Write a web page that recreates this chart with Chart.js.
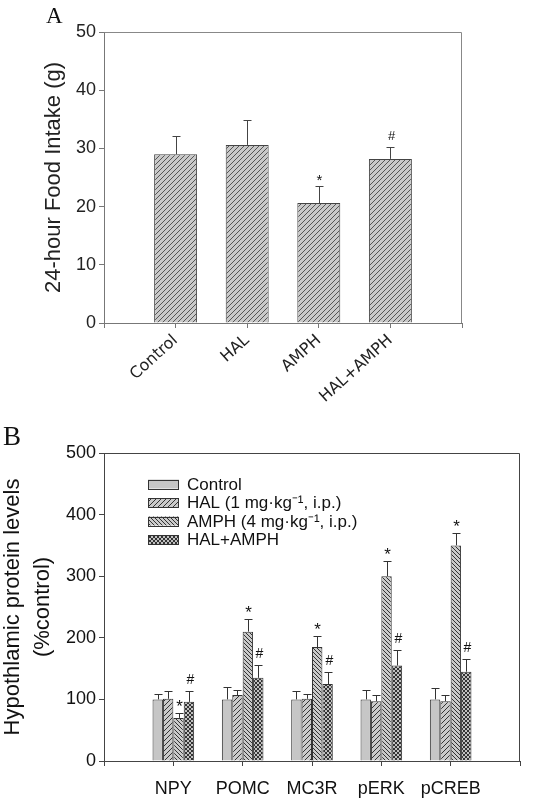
<!DOCTYPE html>
<html>
<head>
<meta charset="utf-8">
<script src="https://cdn.jsdelivr.net/npm/chart.js@4.4.1/dist/chart.umd.min.js"></script>
<style>
  body { margin: 0; background: #fff; width: 554px; height: 800px; position: relative; overflow: hidden; }
  .panel { position: absolute; left: 0; width: 554px; }
  .tag { position: absolute; font-family: "Liberation Serif", serif; color: #111; line-height: 1.15; }
</style>
</head>
<body>
<div class="panel" style="top:0;height:415px"><canvas id="chartA"></canvas></div>
<div class="panel" style="top:415px;height:385px"><canvas id="chartB"></canvas></div>
<div class="tag" style="left:46px;top:3px;font-size:23px">A</div>
<div class="tag" style="left:3px;top:421px;font-size:27px">B</div>
<script>
// ====================
// Panel A data
// ====================
const categoriesA = ["Control", "HAL", "AMPH", "HAL+AMPH"];
const intakeA = [29.0, 30.6, 20.6, 28.2];
const semA = [3.1, 4.2, 3.0, 2.1];
const marksA = ["", "", "*", "#"];
const ticksA = [0, 10, 20, 30, 40, 50];

// ====================
// Panel B data
// ====================
const proteins = ["NPY", "POMC", "MC3R", "pERK", "pCREB"];
const groupNames = ["Control", "HAL (1 mg·kg⁻¹, i.p.)", "AMPH (4 mg·kg⁻¹, i.p.)", "HAL+AMPH"];
const controlB = [100, 100, 100, 100, 100];
const halB = [101, 107, 101, 97, 97];
const amphB = [70, 210, 185, 300, 350];
const halAmphB = [96, 135, 125, 155, 145];
const controlSem = [9, 20, 14, 15, 18];
const halSem = [12, 9, 8, 10, 10];
const amphSem = [8.5, 20, 18, 25, 20];
const halAmphSem = [18, 21, 20, 25, 21];
const amphMarks = ["*", "*", "*", "*", "*"];
const halAmphMarks = ["#", "#", "#", "#", "#"];
const ticksB = [0, 100, 200, 300, 400, 500];

// empty slot on each side of the categories
const pad = a => [null, ...a, null];
const padLabels = a => ["", ...a, ""];

// ====================
// hatch patterns
// ====================
function hatch(kind, s, bg, fg) {
    const c = document.createElement("canvas");
    c.width = s; c.height = s;
    const g = c.getContext("2d");
    g.fillStyle = bg;
    g.fillRect(0, 0, s, s);
    g.strokeStyle = fg;
    g.lineWidth = 1;
    g.beginPath();
    if (kind === "/" || kind === "x") {
        g.moveTo(-1, s + 1); g.lineTo(s + 1, -1);
        g.moveTo(-1, 1); g.lineTo(1, -1);
        g.moveTo(s - 1, s + 1); g.lineTo(s + 1, s - 1);
    }
    if (kind === "\\" || kind === "x") {
        g.moveTo(-1, -1); g.lineTo(s + 1, s + 1);
        g.moveTo(s - 1, -1); g.lineTo(s + 1, 1);
        g.moveTo(-1, s - 1); g.lineTo(1, s + 1);
    }
    g.stroke();
    return g.createPattern(c, "repeat");
}

const fillA = hatch("/", 5, "#c9c9c9", "#555");
const fillsB = [
    "#c6c6c6",
    hatch("/", 5, "#cacaca", "#333"),
    hatch("\\", 4, "#cacaca", "#333"),
    hatch("x", 4, "#c0c0c0", "#333")
];

// ====================
// plugins: error bars + marks, frame, legend
// ====================
const errorBars = {
    id: "errorBars",
    afterDatasetsDraw(chart, args, opts) {
        const ctx = chart.ctx;
        const y = chart.scales.y;
        chart.data.datasets.forEach((ds, i) => {
            if (!ds.sem) return;
            chart.getDatasetMeta(i).data.forEach((bar, j) => {
                const v = ds.data[j];
                if (v == null) return;
                const x = Math.round(bar.x) + 0.5;
                const top = Math.round(y.getPixelForValue(v + ds.sem[j])) + 0.5;
                ctx.save();
                ctx.strokeStyle = opts.color;
                ctx.lineWidth = 1;
                ctx.beginPath();
                ctx.moveTo(x, bar.y);
                ctx.lineTo(x, top);
                ctx.moveTo(x - opts.cap, top);
                ctx.lineTo(x + opts.cap, top);
                ctx.stroke();
                if (ds.marks && ds.marks[j]) {
                    const m = ds.marks[j];
                    ctx.fillStyle = "#111";
                    ctx.textAlign = "center";
                    ctx.textBaseline = "middle";
                    if (m === "*") {
                        ctx.font = opts.starFont;
                        ctx.fillText(m, x, top - 6);
                    } else {
                        ctx.font = opts.hashFont;
                        ctx.fillText(m, x + 1, top - 11);
                    }
                }
                ctx.restore();
            });
        });
    }
};

const frame = {
    id: "frame",
    afterDraw(chart, args, opts) {
        const { left, right, top, bottom } = chart.chartArea;
        const ctx = chart.ctx;
        ctx.save();
        ctx.strokeStyle = opts.color;
        ctx.lineWidth = 1;
        ctx.beginPath();
        ctx.moveTo(Math.round(left) + 0.5, Math.round(top) + 0.5);
        ctx.lineTo(Math.round(right) - 0.5, Math.round(top) + 0.5);
        ctx.lineTo(Math.round(right) - 0.5, Math.round(bottom));
        ctx.stroke();
        ctx.restore();
    }
};

const boxLegend = {
    id: "boxLegend",
    afterDraw(chart, args, opts) {
        if (!opts.show) return;
        const ctx = chart.ctx;
        ctx.save();
        chart.data.datasets.forEach((ds, i) => {
            const cy = opts.y + i * opts.step;
            ctx.fillStyle = ds.backgroundColor;
            ctx.fillRect(opts.x, cy - 4.5, 31, 9);
            ctx.strokeStyle = "#333";
            ctx.lineWidth = 1;
            ctx.strokeRect(opts.x + 0.5, Math.round(cy - 4.5) + 0.5, 30, 9);
            ctx.fillStyle = "#111";
            ctx.font = "17px 'Liberation Sans'";
            ctx.textBaseline = "middle";
            ctx.fillText(ds.label, opts.x + 39, cy + 1);
        });
        ctx.restore();
    }
};

// ====================
// Panel A
// ====================
new Chart(document.getElementById("chartA"), {
    type: "bar",
    data: {
        labels: padLabels(categoriesA),
        datasets: [{
            label: "24-hour Food Intake",
            data: pad(intakeA),
            sem: pad(semA),
            marks: pad(marksA),
            backgroundColor: fillA,
            borderColor: "#444",
            borderWidth: 1,
            barPercentage: 0.6,
            categoryPercentage: 1
        }]
    },
    options: {
        responsive: true,
        maintainAspectRatio: false,
        animation: false,
        layout: { padding: { top: 32, right: 92, left: 0, bottom: 0 } },
        plugins: {
            legend: { display: false },
            tooltip: { enabled: false },
            errorBars: { color: "#444", cap: 4, starFont: "15px 'Liberation Sans'", hashFont: "13px 'Liberation Sans'" },
            frame: { color: "#888" },
            boxLegend: { show: false }
        },
        scales: {
            x: {
                offset: false,
                grid: { offset: false, drawOnChartArea: false, tickLength: 5, color: "#777" },
                border: { color: "#777" },
                ticks: {
                    autoSkip: false, minRotation: 42, maxRotation: 42, padding: 3,
                    font: { family: "DejaVu Sans", size: 16 }, color: "#222"
                },
                afterFit(s) { s.height = 92; }
            },
            y: {
                min: 0, max: 50,
                afterBuildTicks(s) { s.ticks = ticksA.map(v => ({ value: v })); },
                grid: { drawOnChartArea: false, tickLength: 5, color: "#777" },
                border: { color: "#777" },
                ticks: { padding: 3, font: { family: "Liberation Sans", size: 18 }, color: "#222" },
                title: {
                    display: true, text: "24-hour Food Intake (g)",
                    font: { family: "Liberation Sans", size: 22 }, color: "#222",
                    padding: { top: 41, bottom: 0 }
                },
                afterFit(s) { s.width = 104; }
            }
        }
    },
    plugins: [errorBars, frame, boxLegend]
});

// ====================
// Panel B
// ====================
const valuesB = [controlB, halB, amphB, halAmphB];
const semsB = [controlSem, halSem, amphSem, halAmphSem];
const marksB = [null, null, amphMarks, halAmphMarks];

new Chart(document.getElementById("chartB"), {
    type: "bar",
    data: {
        labels: padLabels(proteins),
        datasets: groupNames.map((name, i) => ({
            label: name,
            data: pad(valuesB[i]),
            sem: pad(semsB[i]),
            marks: marksB[i] ? pad(marksB[i]) : null,
            backgroundColor: fillsB[i],
            borderColor: "#333",
            borderWidth: 1,
            barPercentage: 1,
            categoryPercentage: 0.6
        }))
    },
    options: {
        responsive: true,
        maintainAspectRatio: false,
        animation: false,
        layout: { padding: { top: 38, right: 34, left: 0, bottom: 0 } },
        plugins: {
            legend: { display: false },
            tooltip: { enabled: false },
            errorBars: { color: "#333", cap: 4, starFont: "17px 'Liberation Sans'", hashFont: "14px 'Liberation Sans'" },
            frame: { color: "#444" },
            boxLegend: { show: true, x: 148, y: 69, step: 18.5 }
        },
        scales: {
            x: {
                offset: false,
                grid: { offset: false, drawOnChartArea: false, tickLength: 5, color: "#444" },
                border: { color: "#444" },
                ticks: {
                    autoSkip: false, maxRotation: 0, padding: 12,
                    font: { family: "Liberation Sans", size: 18 }, color: "#111"
                },
                afterFit(s) { s.height = 39; }
            },
            y: {
                min: 0, max: 500,
                afterBuildTicks(s) { s.ticks = ticksB.map(v => ({ value: v })); },
                grid: { drawOnChartArea: false, tickLength: 5, color: "#444" },
                border: { color: "#444" },
                ticks: { padding: 3, font: { family: "Liberation Sans", size: 18 }, color: "#111" },
                title: {
                    display: true, text: ["Hypothlamic protein levels", "(%control)"],
                    font: { family: "Liberation Sans", size: 22, lineHeight: 1.36 }, color: "#111",
                    padding: { top: -2, bottom: 0 }
                },
                afterFit(s) { s.width = 104; }
            }
        }
    },
    plugins: [errorBars, frame, boxLegend]
});
</script>
</body>
</html>
